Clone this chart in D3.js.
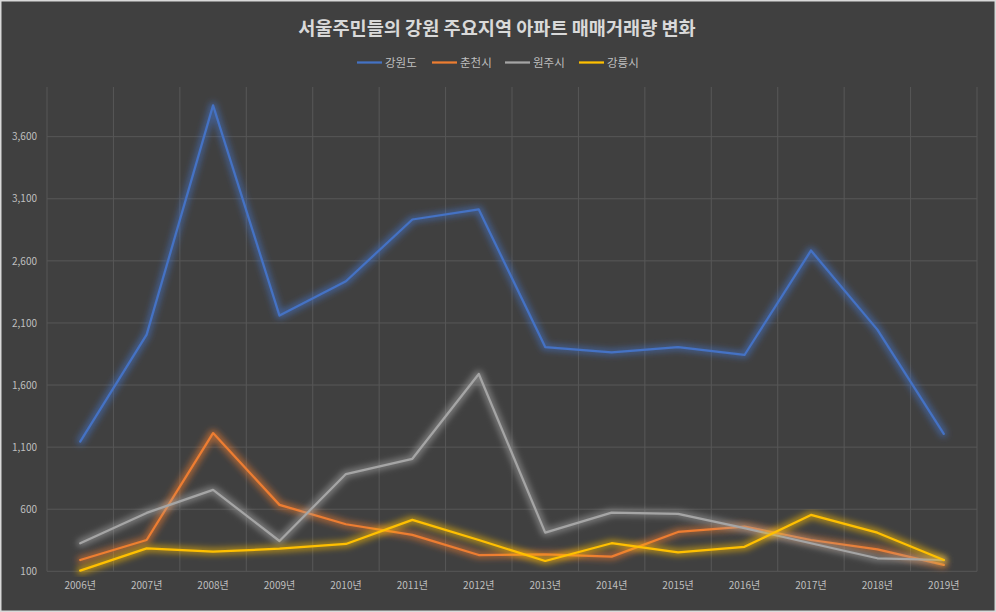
<!DOCTYPE html>
<html><head><meta charset="utf-8">
<script src="https://cdn.jsdelivr.net/npm/d3@7"></script>
<style>html,body{margin:0;padding:0;background:#404040;}svg{display:block;}</style>
</head><body>
<script>
const years = ["2006년","2007년","2008년","2009년","2010년","2011년","2012년","2013년","2014년","2015년","2016년","2017년","2018년","2019년"];
const gangwon = [1145, 2006, 3852, 2159, 2436, 2933, 3014, 1906, 1863, 1906, 1842, 2683, 2046, 1207];
const chuncheon = [191, 352, 1213, 635, 479, 393, 231, 237, 218, 417, 460, 352, 277, 151];
const wonju = [326, 570, 756, 344, 883, 1006, 1689, 411, 573, 562, 447, 326, 205, 191];
const gangneung = [105, 285, 258, 282, 320, 514, 352, 183, 326, 253, 297, 554, 411, 191];
const seriesNames = ["강원도","춘천시","원주시","강릉시"];
const seriesColors = ["#4472C4","#ED7D31","#A5A5A5","#FFC000"];
const yTicks = [100, 600, 1100, 1600, 2100, 2600, 3100, 3600];
const title = "서울주민들의 강원 주요지역 아파트 매매거래량 변화";

const W = 996, H = 612;
const plotL = 47, plotR = 977, plotT = 87, plotB = 571.3;
const font = "'Noto Sans CJK KR','Noto Sans',sans-serif";

const svg = d3.select("body").append("svg").attr("width", W).attr("height", H);
svg.append("rect").attr("x",0.75).attr("y",0.75).attr("width",W-1.5).attr("height",H-1.5)
  .attr("fill","#404040").attr("stroke","#d9d9d9").attr("stroke-width",1.5);

const defs = svg.append("defs");
seriesColors.forEach((c,i)=>{
  const f = defs.append("filter").attr("id","glow"+i).attr("x","-10%").attr("y","-10%").attr("width","120%").attr("height","120%");
  f.append("feMorphology").attr("in","SourceGraphic").attr("operator","dilate").attr("radius",1.5).attr("result","d");
  f.append("feGaussianBlur").attr("in","d").attr("stdDeviation",3).attr("result","b");
  f.append("feComponentTransfer").attr("in","b").attr("result","b2")
    .append("feFuncA").attr("type","linear").attr("slope",0.6);
  const m = f.append("feMerge");
  m.append("feMergeNode").attr("in","b2");
  m.append("feMergeNode").attr("in","SourceGraphic");
});

const x = d3.scaleBand().domain(years).range([plotL, plotR]).padding(0);
const y = d3.scaleLinear().domain([100, 4000]).range([plotB, plotT]);

// gridlines
const g = svg.append("g");
g.selectAll(".hg").data(yTicks).join("line")
  .attr("x1", plotL).attr("x2", plotR)
  .attr("y1", d=>y(d)).attr("y2", d=>y(d))
  .attr("stroke","#575757").attr("stroke-width",1);
const bounds = years.map(d=>x(d)).concat([plotR]);
g.selectAll(".vg").data(bounds).join("line")
  .attr("x1", d=>d).attr("x2", d=>d)
  .attr("y1", plotT).attr("y2", plotB)
  .attr("stroke","#575757").attr("stroke-width",1);

// axes labels
const yAxis = d3.axisLeft(y).tickValues(yTicks).tickFormat(d3.format(",")).tickSize(0).tickPadding(10);
const ya = svg.append("g").attr("transform",`translate(${plotL},0)`).call(yAxis);
ya.select(".domain").remove();
ya.selectAll("text").attr("fill","#bfbfbf").style("font-family",font).style("font-size","10px");

const xAxis = d3.axisBottom(x).tickSize(0).tickPadding(11);
const xa = svg.append("g").attr("transform",`translate(0,${plotB})`).call(xAxis);
xa.select(".domain").remove();
xa.selectAll("text").attr("fill","#bfbfbf").style("font-family",font).style("font-size","10px");

// lines
const data = [gangwon, chuncheon, wonju, gangneung];
const line = d3.line().x((d,i)=>x(years[i]) + x.bandwidth()/2).y(d=>y(d));
data.forEach((s,i)=>{
  svg.append("path").datum(s).attr("d", line)
    .attr("fill","none").attr("stroke", seriesColors[i]).attr("stroke-width",2.25)
    .attr("stroke-linejoin","round").attr("stroke-linecap","round")
    .attr("filter",`url(#glow${i})`);
});

// title
svg.append("text").attr("x", 497).attr("y", 35).attr("text-anchor","middle")
  .attr("fill","#d9d9d9").style("font-family",font).style("font-size","18.6px").style("font-weight","bold")
  .text(title);

// legend
const legX = [357, 432, 505, 579];
seriesNames.forEach((n,i)=>{
  svg.append("line").attr("x1",legX[i]).attr("x2",legX[i]+25).attr("y1",62.5).attr("y2",62.5)
    .attr("stroke",seriesColors[i]).attr("stroke-width",2.25);
  svg.append("text").attr("x",legX[i]+28).attr("y",66.5).attr("fill","#bfbfbf")
    .style("font-family",font).style("font-size","11.5px").text(n);
});
</script>
</body></html>
